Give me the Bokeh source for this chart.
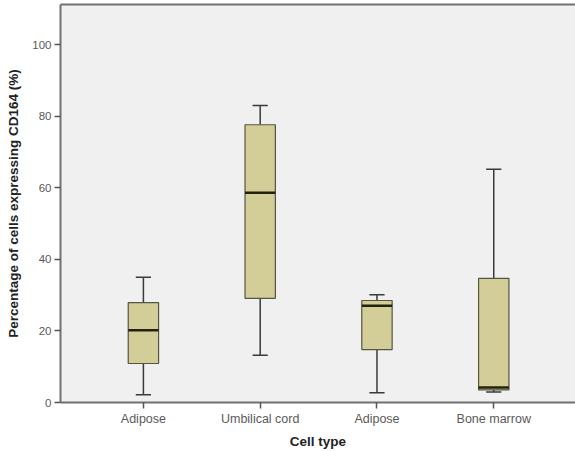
from bokeh.plotting import figure
from bokeh.models import FixedTicker, ColumnDataSource, LinearAxis
from bokeh.embed import file_html
from bokeh.resources import INLINE

categories = ["Adipose", "Umbilical cord", "Adipose", "Bone marrow"]
positions = [1, 2, 3, 4]
whisker_low = [2.2, 13.2, 2.7, 2.9]
q1 = [10.9, 29.1, 14.8, 3.5]
median = [20.2, 58.6, 27.0, 4.2]
q3 = [27.9, 77.6, 28.5, 34.7]
whisker_high = [35.0, 83.0, 30.1, 65.2]
y_ticks = [0, 20, 40, 60, 80, 100]

box_w = 0.26
cap_w = 0.13

src = ColumnDataSource(dict(
    x=positions, lo=whisker_low, q1=q1, med=median, q3=q3, hi=whisker_high,
    xl=[x - box_w / 2 for x in positions], xr=[x + box_w / 2 for x in positions],
    cl=[x - cap_w / 2 for x in positions], cr=[x + cap_w / 2 for x in positions],
))

p = figure(width=575, height=451, output_backend="svg", toolbar_location=None,
           x_range=(0.29, 4.70), y_range=(0, 111.2),
           min_border_left=60, min_border_right=0, min_border_top=4, min_border_bottom=47)

p.background_fill_color = "#f0f0f0"
p.border_fill_color = "white"
p.outline_line_color = None
p.grid.visible = False

xax = p.below[0]
yax = p.left[0]

# top frame line
top = LinearAxis(ticker=FixedTicker(ticks=[]), axis_line_color="#707070", axis_line_width=2,
                 major_tick_line_color=None, minor_tick_line_color=None,
                 major_tick_out=0, major_label_standoff=0)
p.add_layout(top, "above")

# whiskers
p.segment(x0="x", y0="lo", x1="x", y1="q1", source=src, line_color="#3a3a3a", line_width=1.5)
p.segment(x0="x", y0="q3", x1="x", y1="hi", source=src, line_color="#3a3a3a", line_width=1.5)
p.segment(x0="cl", y0="lo", x1="cr", y1="lo", source=src, line_color="#3a3a3a", line_width=1.5)
p.segment(x0="cl", y0="hi", x1="cr", y1="hi", source=src, line_color="#3a3a3a", line_width=1.5)
# boxes
p.quad(left="xl", right="xr", bottom="q1", top="q3", source=src,
       fill_color="#d3cd97", line_color="#555544", line_width=1.2)
# medians
p.segment(x0="xl", y0="med", x1="xr", y1="med", source=src, line_color="#222211", line_width=2.5)

xax.ticker = FixedTicker(ticks=positions)
xax.major_label_overrides = {pos: lab for pos, lab in zip(positions, categories)}
yax.ticker = FixedTicker(ticks=y_ticks)

for ax in (xax, yax):
    ax.minor_tick_line_color = None
    ax.axis_line_color = "#707070"
    ax.axis_line_width = 2
    ax.major_tick_line_color = "#555555"
    ax.major_tick_line_width = 1.5
    ax.major_tick_in = 0
    ax.major_tick_out = 6
    ax.major_label_text_font = "Liberation Sans"
    ax.major_label_text_color = "#5a5a5a"
    ax.major_label_standoff = 3
    ax.axis_label_text_font = "Liberation Sans"
    ax.axis_label_text_font_size = "13.5px"
    ax.axis_label_text_font_style = "bold"
    ax.axis_label_text_color = "#222222"

xax.major_label_text_font_size = "12.5px"
yax.major_label_text_font_size = "11.5px"

xax.axis_label = "Cell type"
yax.axis_label = "Percentage of cells expressing CD164 (%)"
xax.axis_label_standoff = 5
yax.axis_label_standoff = 8

open("out.html", "w").write(file_html(p, INLINE))
